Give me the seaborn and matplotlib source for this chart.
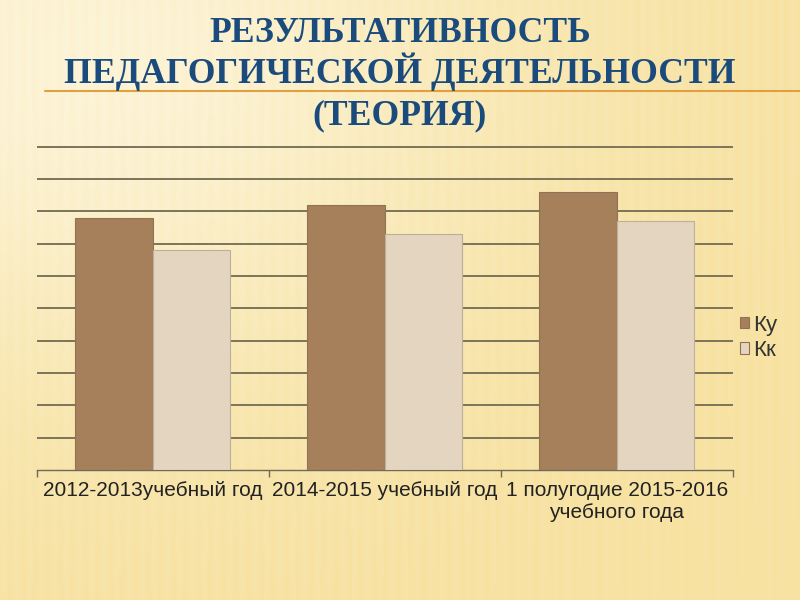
import numpy as np
import pandas as pd
import matplotlib.pyplot as plt
import seaborn as sns

categories = ["2012-2013учебный год", "2014-2015 учебный год", "1 полугодие 2015-2016\nучебного года"]
series = ["Ку", "Кк"]
ku_values = [78, 82, 86]
kk_values = [68, 73, 77]

df = pd.DataFrame({
    "cat": categories * 2,
    "series": [series[0]] * 3 + [series[1]] * 3,
    "value": ku_values + kk_values,
})

sns.set_theme(style="white")
plt.rcParams['font.family'] = ['Liberation Sans', 'DejaVu Sans']

fig = plt.figure(figsize=(8, 6), dpi=100)
fig.patch.set_facecolor("#F8E6AE")

# soft background with faint stripes
bg = fig.add_axes([0, 0, 1, 1], zorder=-10)
xx, yy = np.meshgrid(np.linspace(0, 1, 400), np.linspace(0, 1, 300))
shade = 0.55 * np.exp(-((xx - 0.1) ** 2 + (yy - 0.1) ** 2) / 0.3) + 0.03 * np.sin(xx * 400)
bg.imshow(shade, cmap=sns.blend_palette(["#F7E2A2", "#FDF5DA"], as_cmap=True),
          aspect="auto", extent=[0, 1, 0, 1], vmin=0, vmax=0.6)
bg.axis("off")

ax = fig.add_axes([0.046, 0.2167, 0.87, 0.5442])
ax.set_facecolor("none")
sns.barplot(data=df, x="cat", y="value", hue="series", order=categories,
            palette=["#A67F5B", "#E4D5C1"], width=0.667, ax=ax,
            edgecolor="#8E7355", linewidth=0.8, saturation=1, zorder=3)
for p in ax.patches[3:6]:
    p.set_edgecolor("#BDAF9A")

ax.set_ylim(0, 101)
ax.set_yticks(np.arange(10, 101, 10))
ax.yaxis.grid(True, color="#7C7458", linewidth=1.4, zorder=0)
ax.set_axisbelow(True)
ax.tick_params(axis="y", left=False, labelleft=False)
ax.set_xlim(-0.5, 2.5)
ax.set_xticks([-0.5, 0.5, 1.5, 2.5], minor=True)
ax.tick_params(axis="x", which="minor", length=5, color="#6E6A5A", direction="out", bottom=True)
ax.tick_params(axis="x", which="major", length=0, labelsize=15, labelcolor="#222222", pad=8)
for s in ["top", "right", "left"]:
    ax.spines[s].set_visible(False)
ax.spines["bottom"].set_color("#6E6A5A")
ax.spines["bottom"].set_linewidth(1.0)
ax.set_xlabel("")
ax.set_ylabel("")

leg = ax.legend(loc="center left", bbox_to_anchor=(0.982, 0.405), frameon=False,
                fontsize=16, handlelength=0.4, handleheight=0.4, handletextpad=0.2,
                labelspacing=0.2)
for t in leg.get_texts():
    t.set_color("#333333")

title_kw = dict(ha="center", va="baseline", fontsize=25.7, fontweight="bold",
                color="#1A4B7C", family=["Liberation Serif", "DejaVu Serif"])
fig.text(0.5, 0.93, "РЕЗУЛЬТАТИВНОСТЬ", **title_kw)
fig.text(0.5, 0.8617, "ПЕДАГОГИЧЕСКОЙ ДЕЯТЕЛЬНОСТИ", **title_kw)
fig.text(0.5, 0.793, "(ТЕОРИЯ)", **title_kw)
fig.add_artist(plt.Line2D([0.056, 1.0], [0.848, 0.848], color="#E0A040", linewidth=1.5))

fig.savefig("out.png", dpi=100)
